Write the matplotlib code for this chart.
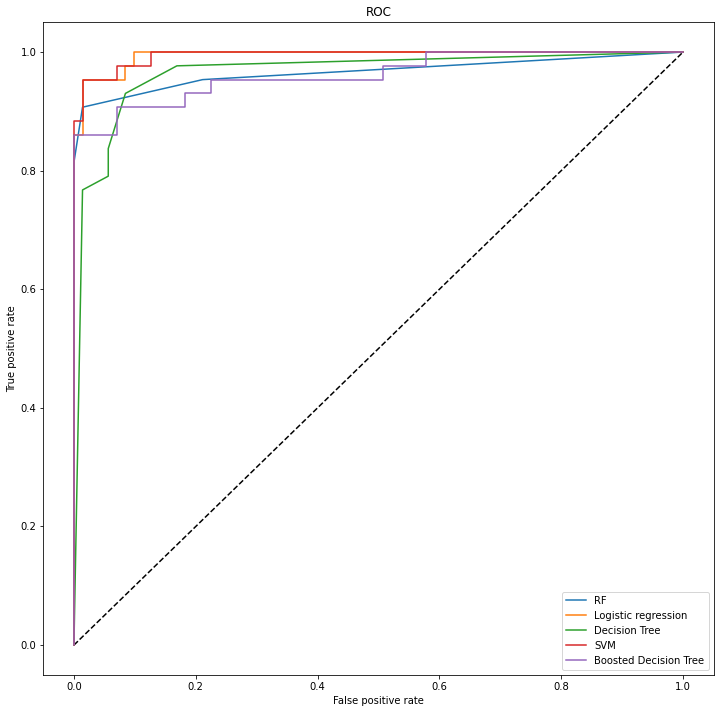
import matplotlib
matplotlib.use('Agg')
import matplotlib.pyplot as plt

# ROC points (43 positives, 71 negatives in the test set)
rf_fpr = [0, 0, 1/71, 15/71, 1]
rf_tpr = [0, 35/43, 39/43, 41/43, 1]

lr_fpr = [0, 0, 1/71, 1/71, 6/71, 6/71, 7/71, 7/71, 1]
lr_tpr = [0, 37/43, 37/43, 41/43, 41/43, 42/43, 42/43, 1, 1]

dt_fpr = [0, 1/71, 4/71, 4/71, 6/71, 12/71, 1]
dt_tpr = [0, 33/43, 34/43, 36/43, 40/43, 42/43, 1]

svm_fpr = [0, 0, 1/71, 1/71, 5/71, 5/71, 9/71, 9/71, 1]
svm_tpr = [0, 38/43, 38/43, 41/43, 41/43, 42/43, 42/43, 1, 1]

bdt_fpr = [0, 0, 5/71, 5/71, 13/71, 13/71, 16/71, 16/71, 36/71, 36/71, 41/71, 41/71, 1]
bdt_tpr = [0, 37/43, 37/43, 39/43, 39/43, 40/43, 40/43, 41/43, 41/43, 42/43, 42/43, 1, 1]

fig = plt.figure(figsize=(10, 713/72), dpi=72)
ax = fig.add_axes([0.0604, 0.0537, 0.9306, 0.9149])

ax.plot([0, 1], [0, 1], 'k--')
ax.plot(rf_fpr, rf_tpr, label='RF')
ax.plot(lr_fpr, lr_tpr, label='Logistic regression')
ax.plot(dt_fpr, dt_tpr, label='Decision Tree')
ax.plot(svm_fpr, svm_tpr, label='SVM')
ax.plot(bdt_fpr, bdt_tpr, label='Boosted Decision Tree')

ax.set_xlabel('False positive rate')
ax.set_ylabel('True positive rate')
ax.set_title('ROC')
ax.legend(loc='best')

fig.savefig('out.png', dpi=72)
